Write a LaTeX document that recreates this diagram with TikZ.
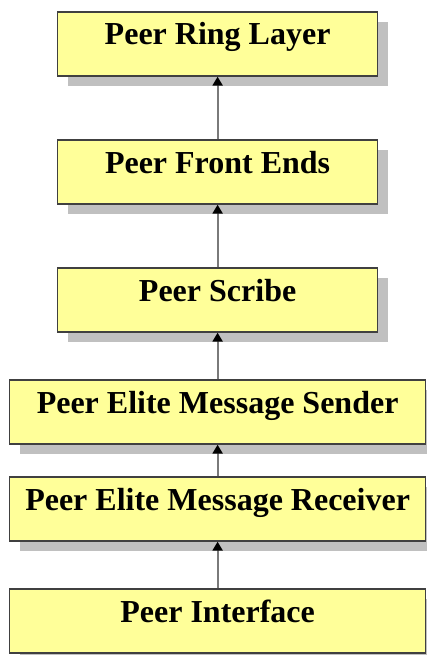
\documentclass[tikz,border=0pt]{standalone}
\usepackage{fontspec}
\setmainfont{Liberation Serif}
\usetikzlibrary{shadows,arrows.meta}
\definecolor{boxfill}{HTML}{FFFF99}
\definecolor{boxline}{HTML}{404040}
\definecolor{shadowc}{HTML}{C0C0C0}
\definecolor{arrowc}{HTML}{7A7A7A}
\tikzset{
  layerbox/.style={draw=boxline, line width=1.3pt, fill=boxfill, inner sep=0pt,
    text height=33pt, text depth=31pt, minimum height=64pt,
    font=\fontsize{32}{38}\selectfont\bfseries,
    general shadow={fill=shadowc, shadow xshift=10pt, shadow yshift=-10pt}},
  narrow/.style={layerbox, minimum width=320pt},
  wide/.style={layerbox, minimum width=416pt},
  uparrow/.style={draw=arrowc, line width=2pt, -{Triangle[color=black,length=9pt,width=10pt]}}
}
\begin{document}
\begin{tikzpicture}[x=1pt,y=-1pt]
\useasboundingbox (0,0) rectangle (427,655);
\clip (0,0) rectangle (427,655);
\node[narrow] (ring) at (217.6,44) {Peer Ring Layer};
\node[narrow] (front) at (217.6,172) {Peer Front Ends};
\node[narrow] (scribe) at (217.6,300) {Peer Scribe};
\node[wide] (sender) at (217.6,412) {Peer Elite Message Sender};
\node[wide] (receiver) at (217.6,509) {Peer Elite Message Receiver};
\node[wide] (iface) at (217.6,621) {Peer Interface};
\draw[uparrow] (front.north) -- (ring.south);
\draw[uparrow] (scribe.north) -- (front.south);
\draw[uparrow] (sender.north) -- (scribe.south);
\draw[uparrow] (receiver.north) -- (sender.south);
\draw[uparrow] (iface.north) -- (receiver.south);
\end{tikzpicture}
\end{document}
